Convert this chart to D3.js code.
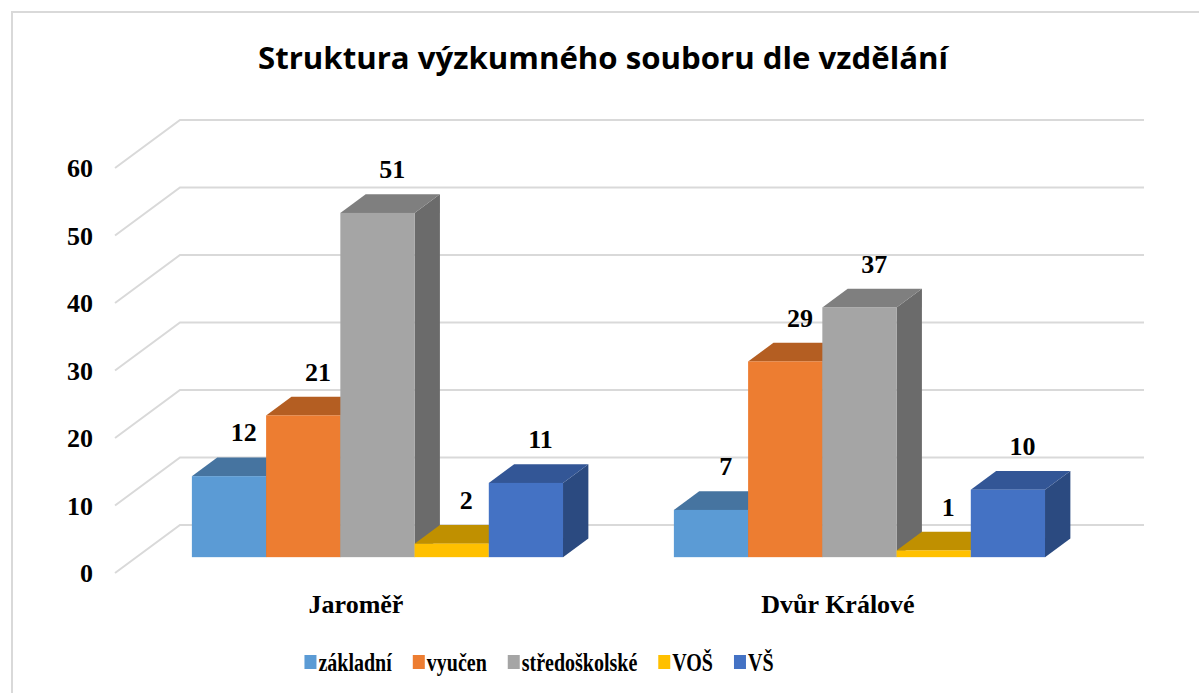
<!DOCTYPE html>
<html>
<head>
<meta charset="utf-8">
<script src="https://cdn.jsdelivr.net/npm/d3@7"></script>
<style>
  body { margin: 0; background: #fff; }
  text { font-family: "Liberation Serif", "Times New Roman", serif; font-weight: bold; fill: #000; }
</style>
</head>
<body>
<div id="chart"></div>
<script>
const categories = ["Jaroměř", "Dvůr Králové"];
const seriesNames = ["základní", "vyučen", "středoškolské", "VOŠ", "VŠ"];
const valuesJaromer = [12, 21, 51, 2, 11];
const valuesDvur = [7, 29, 37, 1, 10];
const yTicks = [0, 10, 20, 30, 40, 50, 60];
const title = "Struktura výzkumného souboru dle vzdělání";

const frontColors = ["#5B9BD5", "#ED7D31", "#A5A5A5", "#FFC000", "#4472C4"];
const topColors = ["#4674A0", "#B45E22", "#7F7F7F", "#C09000", "#335696"];
const sideColors = ["#3E6890", "#9C521E", "#6B6B6B", "#A87E00", "#2B4A80"];

const width = 1199, height = 693;
const margin = { left: 115, right: 120, floor: 573 };

const svg = d3.select("#chart").append("svg")
  .attr("width", width).attr("height", height);

// chart frame
svg.append("rect")
  .attr("x", 12).attr("y", 12)
  .attr("width", width).attr("height", height)
  .attr("fill", "none").attr("stroke", "#D9D9D9").attr("stroke-width", 2);

// title
svg.append("text")
  .attr("x", 603).attr("y", 69)
  .attr("text-anchor", "middle")
  .attr("textLength", 690).attr("lengthAdjust", "spacingAndGlyphs")
  .style("font-family", "'Open Sans', 'Liberation Sans', sans-serif")
  .style("font-size", "31px")
  .text(title);

// depth of the 3D floor
const depth = { dx: 65, dy: -48 };
const barFront = 0.33, barBack = 0.72;

const x = d3.scaleBand()
  .domain(categories)
  .range([margin.left, width - margin.right])
  .paddingInner(0.23).paddingOuter(0.115);

const xs = d3.scaleBand()
  .domain(seriesNames)
  .range([0, x.bandwidth()]);

const y = d3.scaleLinear()
  .domain([0, 60])
  .range([margin.floor, margin.floor - 405]);

// gridlines: front diagonal + back wall line
const gridRight = width - margin.right + depth.dx;
svg.append("g").selectAll("polyline")
  .data(yTicks)
  .join("polyline")
  .attr("points", d => [
    [margin.left, y(d)],
    [margin.left + depth.dx, y(d) + depth.dy],
    [gridRight, y(d) + depth.dy]
  ].join(" "))
  .attr("fill", "none")
  .attr("stroke", "#D9D9D9")
  .attr("stroke-width", 2);

// y axis labels
svg.append("g").selectAll("text")
  .data(yTicks)
  .join("text")
  .attr("x", 93)
  .attr("y", d => y(d))
  .attr("dy", "0.35em")
  .attr("text-anchor", "end")
  .style("font-size", "26px")
  .text(d => d);

// bars
const data = [];
categories.forEach((c, ci) => {
  const vals = ci === 0 ? valuesJaromer : valuesDvur;
  seriesNames.forEach((s, si) => data.push({ cat: c, series: s, si: si, value: vals[si] }));
});

const fx = depth.dx * barFront, fy = depth.dy * barFront;
const bdx = depth.dx * (barBack - barFront), bdy = depth.dy * (barBack - barFront);

const bars = svg.append("g").selectAll("g")
  .data(data)
  .join("g");

bars.each(function (d) {
  const g = d3.select(this);
  const x0 = x(d.cat) + xs(d.series) + fx;
  const x1 = x0 + xs.bandwidth();
  const yb = y(0) + fy;
  const yt = y(d.value) + fy;
  // side face
  g.append("polygon")
    .attr("points", [[x1, yb], [x1 + bdx, yb + bdy], [x1 + bdx, yt + bdy], [x1, yt]].join(" "))
    .attr("fill", sideColors[d.si]);
  // top face
  g.append("polygon")
    .attr("points", [[x0, yt], [x0 + bdx, yt + bdy], [x1 + bdx, yt + bdy], [x1, yt]].join(" "))
    .attr("fill", topColors[d.si]);
  // front face
  g.append("rect")
    .attr("x", x0).attr("y", yt)
    .attr("width", x1 - x0).attr("height", yb - yt)
    .attr("fill", frontColors[d.si]);
  // data label
  g.append("text")
    .attr("x", (x0 + x1) / 2 + bdx / 2 + 2)
    .attr("y", yt + bdy - 16)
    .attr("text-anchor", "middle")
    .style("font-size", "26px")
    .text(d.value);
});

// category labels
svg.append("g").selectAll("text")
  .data(categories)
  .join("text")
  .attr("x", d => x(d) + x.bandwidth() / 2)
  .attr("y", 613)
  .attr("text-anchor", "middle")
  .style("font-size", "26px")
  .text(d => d);

// legend
const legend = svg.append("g");
const squeeze = 0.8;
let lx = 0;
seriesNames.forEach((s, i) => {
  const item = legend.append("g").attr("transform", `translate(${lx},0)`);
  item.append("rect")
    .attr("x", 0).attr("y", 655)
    .attr("width", 12).attr("height", 14)
    .attr("fill", frontColors[i]);
  const t = item.append("text")
    .attr("transform", `translate(14,671) scale(${squeeze},1)`)
    .style("font-size", "25px")
    .text(s);
  lx += 14 + t.node().getComputedTextLength() * squeeze + 21;
});
const legendWidth = lx - 21;
legend.attr("transform", `translate(${539 - legendWidth / 2},0)`);
</script>
</body>
</html>
